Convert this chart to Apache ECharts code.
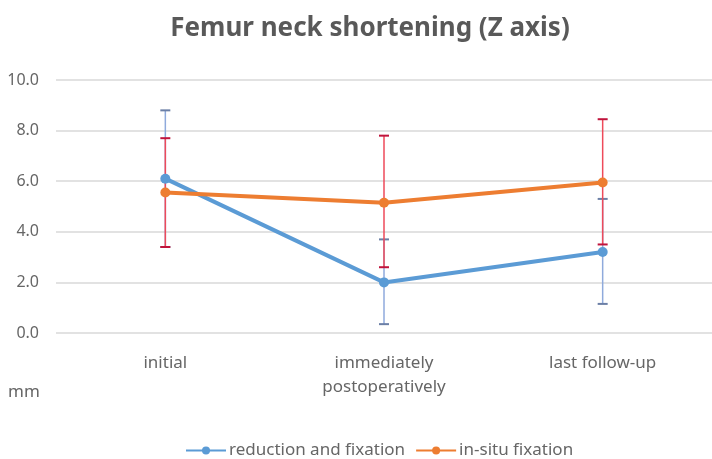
<!DOCTYPE html>
<html>
<head>
<meta charset="utf-8">
<script src="https://cdn.jsdelivr.net/npm/echarts@6/dist/echarts.min.js"></script>
<style>html,body{margin:0;padding:0;background:#fff}#c{width:712px;height:459px}</style>
</head>
<body>
<div id="c"></div>
<script>
var categories = ['initial', 'immediately\npostoperatively', 'last follow-up'];
var reductionMean = [6.1, 2.0, 3.2];
var reductionLow = [3.4, 0.35, 1.15];
var reductionHigh = [8.8, 3.7, 5.3];
var insituMean = [5.55, 5.15, 5.95];
var insituLow = [3.4, 2.6, 3.5];
var insituHigh = [7.7, 7.8, 8.45];
var yTicks = [0, 2, 4, 6, 8, 10];

var FONT = '"Noto Sans", "Open Sans", sans-serif';
var TXT = '#595959';
var TXT2 = '#666666';

function errData(low, high) {
  return categories.map(function (c, i) { return [i, low[i], high[i]]; });
}
function errRender(lineColor, capColor) {
  return function (params, api) {
    var x = api.value(0);
    var lo = api.coord([x, api.value(1)]);
    var hi = api.coord([x, api.value(2)]);
    var hw = 5;
    return {
      type: 'group',
      children: [
        { type: 'line', shape: { x1: lo[0], y1: lo[1], x2: hi[0], y2: hi[1] }, style: { stroke: lineColor, lineWidth: 1.5 } },
        { type: 'line', shape: { x1: lo[0] - hw, y1: lo[1], x2: lo[0] + hw, y2: lo[1] }, style: { stroke: capColor, lineWidth: 2 } },
        { type: 'line', shape: { x1: hi[0] - hw, y1: hi[1], x2: hi[0] + hw, y2: hi[1] }, style: { stroke: capColor, lineWidth: 2 } }
      ]
    };
  };
}

var chart = echarts.init(document.getElementById('c'), null, { renderer: 'canvas' });
chart.setOption({
  animation: false,
  title: {
    text: 'Femur neck shortening (Z axis)',
    left: 365, top: 11, textAlign: 'center',
    textStyle: { fontFamily: FONT, fontSize: 26, fontWeight: 'bold', color: TXT }
  },
  grid: { left: 56, right: 0, top: 80, bottom: 126 },
  legend: {
    top: 437, left: 180,
    itemWidth: 40, itemHeight: 10, itemGap: 10,
    textStyle: { fontFamily: FONT, fontSize: 17, color: TXT2, padding: [0, 0, 0, -2] },
    data: ['reduction and fixation', 'in-situ fixation']
  },
  graphic: [{
    type: 'text', left: 8, top: 384,
    style: { text: 'mm', fontFamily: FONT, fontSize: 17, fill: TXT2 }
  }],
  xAxis: {
    type: 'category', data: categories, boundaryGap: true,
    axisLine: { show: false }, axisTick: { show: false },
    axisLabel: { margin: 18, fontFamily: FONT, fontSize: 17, color: TXT2, lineHeight: 24 }
  },
  yAxis: {
    type: 'value', min: yTicks[0], max: yTicks[yTicks.length - 1], interval: 2,
    axisLine: { show: false }, axisTick: { show: false },
    axisLabel: { margin: 17, fontFamily: FONT, fontSize: 16, color: TXT2, formatter: function (v) { return v.toFixed(1); } },
    splitLine: { lineStyle: { color: '#d9d9d9', width: 1.5 } }
  },
  series: [
    { type: 'custom', name: 'errB', data: errData(reductionLow, reductionHigh), renderItem: errRender('#8faadc', '#6b7fa6'), z: 2 },
    { type: 'custom', name: 'errO', data: errData(insituLow, insituHigh), renderItem: errRender('#ee4a5a', '#c0143c'), z: 3 },
    {
      type: 'line', name: 'reduction and fixation', data: reductionMean, z: 5,
      symbol: 'circle', symbolSize: 10,
      lineStyle: { color: '#5b9bd5', width: 4 }, itemStyle: { color: '#5b9bd5' }
    },
    {
      type: 'line', name: 'in-situ fixation', data: insituMean, z: 5,
      symbol: 'circle', symbolSize: 10,
      lineStyle: { color: '#ed7d31', width: 4 }, itemStyle: { color: '#ed7d31' }
    }
  ]
});
</script>
</body>
</html>
